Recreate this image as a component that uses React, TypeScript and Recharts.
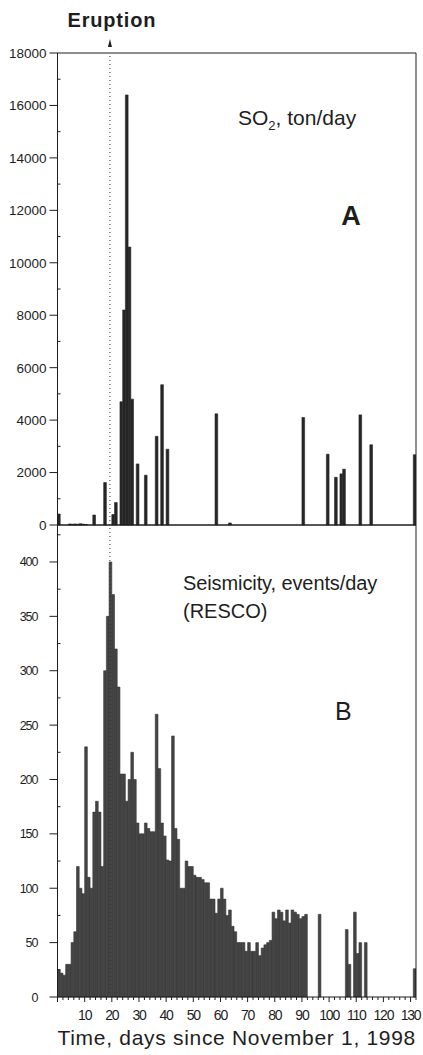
import React from "react";
import { BarChart, Bar, XAxis, YAxis, ReferenceLine } from "recharts";

const font = "'Liberation Sans', Arial, Helvetica, sans-serif";
const ink = "#1e1e1e";

const DAYS = 132;
const ERUPTION_DAY = 19.3;

// SO2 emission, ton/day: day index -> value
const so2Days = [0, 4, 5, 6, 7, 8, 9, 10, 13, 17, 20, 21, 23, 24, 25, 26, 27, 29, 32, 36, 38, 40, 58, 63, 90, 99, 102, 104, 105, 111, 115, 131];
const so2Values = [420, 40, 30, 40, 30, 50, 30, 20, 380, 1620, 400, 860, 4700, 8200, 16400, 10600, 4800, 2330, 1900, 3380, 5350, 2890, 4240, 80, 4100, 2700, 1820, 1950, 2130, 4200, 3060, 2680];

// seismicity (RESCO), events/day, days 0..91 without break
const quakeDaily = [
  25, 22, 20, 30, 30, 50, 60, 120, 100, 95,
  230, 110, 100, 170, 180, 170, 120, 300, 350, 400,
  370, 320, 285, 205, 205, 180, 200, 225, 200, 160,
  150, 150, 160, 155, 152, 152, 260, 210, 160, 148,
  126, 125, 240, 155, 145, 100, 100, 125, 120, 120,
  112, 110, 110, 108, 105, 105, 90, 90, 77, 90,
  100, 90, 75, 80, 65, 60, 50, 50, 50, 42,
  50, 42, 42, 50, 38, 45, 48, 50, 52, 78,
  72, 80, 78, 70, 80, 68, 80, 78, 76, 72,
  74, 76,
];
// later, scattered days
const quakeLateDays = [96, 106, 107, 109, 110, 111, 113, 131];
const quakeLateValues = [76, 62, 30, 78, 40, 50, 50, 26];

const range = (start: number, stop: number, step: number) => {
  const out: number[] = [];
  for (let v = start; v <= stop; v += step) out.push(v);
  return out;
};

const so2Ticks = range(0, 18000, 1000);
const quakeTicks = range(0, 425, 25);
const dayTicks = range(0, 132, 2);

const rows = Array.from({ length: DAYS }, (_, d) => ({ t: d + 0.5, so2: 0, quakes: 0 }));
so2Days.forEach((d, i) => (rows[d].so2 = so2Values[i]));
quakeDaily.forEach((v, d) => (rows[d].quakes = v));
quakeLateDays.forEach((d, i) => (rows[d].quakes = quakeLateValues[i]));

const leftTick = (major: number, labelGap: number, fontSize: number, spacing: number) => (p: any) => {
  const v = p.payload.value;
  if (v % major === 0) {
    return (
      <g>
        <line x1={p.x - 8} y1={p.y} x2={p.x} y2={p.y} stroke={ink} />
        <text x={p.x - labelGap} y={p.y} dy="0.36em" textAnchor="end" fontSize={fontSize} letterSpacing={spacing} fontFamily={font} fill={ink}>
          {v}
        </text>
      </g>
    );
  }
  return <line x1={p.x} y1={p.y} x2={p.x + 3} y2={p.y} stroke={ink} />;
};

const dayTick = (p: any) => {
  const v = p.payload.value;
  const major = v % 10 === 0;
  return (
    <g>
      <line x1={p.x} y1={p.y} x2={p.x} y2={p.y + (major ? 5 : 3)} stroke={ink} />
      {major && v > 0 && (
        <text x={p.x} y={p.y + 18} dy="0.36em" textAnchor="middle" fontSize={14} letterSpacing={-1.2} fontFamily={font} fill={ink}>
          {v}
        </text>
      )}
    </g>
  );
};

const EruptionMark = (p: any) => {
  const { x, y } = p.viewBox;
  return (
    <g>
      <path d={`M${x - 2},${y - 6} L${x + 2},${y - 6} L${x},${y - 14} Z`} fill={ink} />
      <text x={x + 2} y={y - 26} textAnchor="middle" fontSize={20} fontWeight="bold" letterSpacing={0.8} fontFamily={font} fill={ink}>
        Eruption
      </text>
    </g>
  );
};

export default function App() {
  return (
    <div style={{ position: "absolute", left: 0, top: 0, width: 423, height: 1055, background: "#fff", fontFamily: font }}>
      <div style={{ position: "absolute", left: 0, top: 0 }}>
        <BarChart width={423} height={536} data={rows} margin={{ top: 52, right: 7, bottom: 10, left: 0 }}>
          <XAxis dataKey="t" type="number" domain={[0, DAYS]} allowDataOverflow height={1} tick={false} tickLine={false} axisLine={{ stroke: ink }} />
          <XAxis xAxisId="frame" orientation="top" dataKey="t" type="number" domain={[0, DAYS]} height={1} tick={false} tickLine={false} axisLine={{ stroke: ink }} />
          <YAxis yAxisId="left" width={57.5} domain={[0, 18000]} ticks={so2Ticks} interval={0} tickSize={0} tickMargin={0} tick={leftTick(2000, 11, 13.5, 0)} tickLine={false} axisLine={{ stroke: ink }} />
          <YAxis yAxisId="right" orientation="right" mirror width={1} domain={[0, 18000]} ticks={so2Ticks} interval={0} tick={false} tickSize={3} tickLine={{ stroke: ink }} axisLine={{ stroke: ink }} />
          <ReferenceLine x={ERUPTION_DAY} yAxisId="left" stroke="#333" strokeDasharray="1 3" label={EruptionMark} />
          <Bar dataKey="so2" yAxisId="left" fill="#262626" stroke="#262626" strokeWidth={0.6} barSize={2.7} isAnimationActive={false} />
        </BarChart>
      </div>
      <div style={{ position: "absolute", left: 0, top: 524 }}>
        <BarChart width={423} height={531} data={rows} margin={{ top: 0, right: 7, bottom: 0, left: 0 }}>
          <XAxis
            dataKey="t"
            type="number"
            domain={[0, DAYS]}
            allowDataOverflow
            height={58}
            ticks={dayTicks}
            interval={0}
            tickSize={0}
            tickMargin={0}
            tick={dayTick}
            tickLine={false}
            axisLine={{ stroke: ink }}
            label={{ value: "Time, days since November 1, 1998", position: "insideBottom", offset: 10, fontSize: 21, letterSpacing: 0.7, fill: ink, fontFamily: font }}
          />
          <XAxis xAxisId="frame" orientation="top" dataKey="t" type="number" domain={[0, DAYS]} height={1} tick={false} tickLine={false} axisLine={{ stroke: ink }} />
          <YAxis yAxisId="left" width={57.5} domain={[0, 434]} ticks={quakeTicks} interval={0} tickSize={0} tickMargin={0} tick={leftTick(50, 20, 12.5, -1)} tickLine={false} axisLine={{ stroke: ink }} />
          <YAxis yAxisId="right" orientation="right" mirror width={1} domain={[0, 434]} ticks={quakeTicks} interval={0} tick={false} tickSize={3} tickLine={{ stroke: ink }} axisLine={{ stroke: ink }} />
          <ReferenceLine x={ERUPTION_DAY} yAxisId="left" stroke="#333" strokeDasharray="1 3" />
          <Bar dataKey="quakes" yAxisId="left" fill="#444" stroke="#383838" strokeWidth={0.6} barSize={2.7} isAnimationActive={false} />
        </BarChart>
      </div>
      <svg width={423} height={1055} style={{ position: "absolute", left: 0, top: 0, pointerEvents: "none" }}>
        <text x={238} y={125} fontSize={21} fontFamily={font} fill={ink}>
          SO<tspan fontSize={13} dy={5}>2</tspan>
          <tspan dy={-5}>, ton/day</tspan>
        </text>
        <text x={351} y={225} textAnchor="middle" fontSize={27} fontWeight="bold" fontFamily={font} fill={ink}>
          A
        </text>
        <text x={183} y={590} fontSize={20} letterSpacing={-0.1} fontFamily={font} fill={ink}>
          Seismicity, events/day
        </text>
        <text x={183} y={618} fontSize={20} fontFamily={font} fill={ink}>
          (RESCO)
        </text>
        <text x={335} y={720} fontSize={25} fontFamily={font} fill={ink}>
          B
        </text>
      </svg>
    </div>
  );
}
